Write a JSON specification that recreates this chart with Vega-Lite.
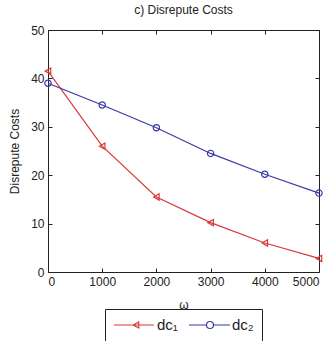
{
  "$schema": "https://vega.github.io/schema/vega-lite/v6.json",
  "autosize": "none",
  "width": 271,
  "height": 242,
  "padding": {"left": 48, "top": 30, "right": 14, "bottom": 69},
  "background": "white",
  "title": {"text": "c) Disrepute Costs", "fontSize": 12, "fontWeight": "normal", "font": "Liberation Sans", "color": "#222", "offset": 7},
  "data": {"values": [
    {"w": 0, "v": 41.5, "s": "dc1"},
    {"w": 1000, "v": 26.0, "s": "dc1"},
    {"w": 2000, "v": 15.5, "s": "dc1"},
    {"w": 3000, "v": 10.2, "s": "dc1"},
    {"w": 4000, "v": 6.0, "s": "dc1"},
    {"w": 5000, "v": 2.8, "s": "dc1"},
    {"w": 0, "v": 39.0, "s": "dc2"},
    {"w": 1000, "v": 34.5, "s": "dc2"},
    {"w": 2000, "v": 29.8, "s": "dc2"},
    {"w": 3000, "v": 24.5, "s": "dc2"},
    {"w": 4000, "v": 20.2, "s": "dc2"},
    {"w": 5000, "v": 16.3, "s": "dc2"}
  ]},
  "config": {
    "view": {"stroke": "#222", "strokeWidth": 1},
    "axis": {"labelFont": "Liberation Sans", "labelFontSize": 12, "labelColor": "#222", "titleFont": "Liberation Sans", "titleFontSize": 12, "titleFontWeight": "normal", "titleColor": "#222", "grid": false, "domain": false, "tickColor": "#222", "tickSize": -4, "labelPadding": 8}
  },
  "layer": [
    {
      "mark": {"type": "line", "strokeWidth": 1.2},
      "encoding": {
        "x": {"field": "w", "type": "quantitative", "scale": {"domain": [0, 5000], "nice": false}, "axis": {"title": "ω", "values": [0, 1000, 2000, 3000, 4000, 5000], "format": "d", "titlePadding": 12}},
        "y": {"field": "v", "type": "quantitative", "scale": {"domain": [0, 50], "nice": false}, "axis": {"title": "Disrepute Costs", "values": [0, 10, 20, 30, 40, 50], "titlePadding": 9}},
        "color": {"field": "s", "type": "nominal", "scale": {"domain": ["dc1", "dc2"], "range": ["#d9393b", "#3a3aa6"]},
          "legend": {
            "orient": "none", "legendX": 57, "legendY": 279, "direction": "horizontal", "title": null,
            "labelExpr": "datum.value === 'dc1' ? 'dc₁' : 'dc₂'",
            "labelFont": "Liberation Sans", "labelFontSize": 15, "labelColor": "#222",
            "strokeColor": "#222", "padding": 8, "fillColor": "white",
            "symbolSize": 196, "symbolStrokeWidth": 1.2, "columnPadding": 8, "labelOffset": 28,
            "encode": {"symbols": {"update": {"shape": {"signal": "datum.value === 'dc1' ? 'M-1,0H4.7M1.74,0L2.54,-0.42L2.54,0.42Z' : 'M-1,0H1.5M2.5,0H4.86M1.5,0A0.5,0.5 0 1,0 2.5,0A0.5,0.5 0 1,0 1.5,0'"}, "fill": {"value": "transparent"}}}}
          }
        }
      }
    },
    {
      "transform": [{"filter": "datum.s === 'dc1'"}],
      "mark": {"type": "point", "shape": "triangle-left", "filled": false, "size": 40, "strokeWidth": 1.2, "opacity": 1},
      "encoding": {
        "x": {"field": "w", "type": "quantitative", "axis": {"orient": "top", "labels": false, "title": null, "values": [0, 1000, 2000, 3000, 4000, 5000]}},
        "y": {"field": "v", "type": "quantitative", "axis": {"orient": "right", "labels": false, "title": null, "values": [0, 10, 20, 30, 40, 50]}},
        "color": {"field": "s", "type": "nominal"}
      }
    },
    {
      "transform": [{"filter": "datum.s === 'dc2'"}],
      "mark": {"type": "point", "shape": "circle", "filled": false, "size": 40, "strokeWidth": 1.2, "opacity": 1},
      "encoding": {
        "x": {"field": "w", "type": "quantitative", "axis": null},
        "y": {"field": "v", "type": "quantitative", "axis": null},
        "color": {"field": "s", "type": "nominal"}
      }
    }
  ],
  "resolve": {"axis": {"x": "independent", "y": "independent"}}
}
